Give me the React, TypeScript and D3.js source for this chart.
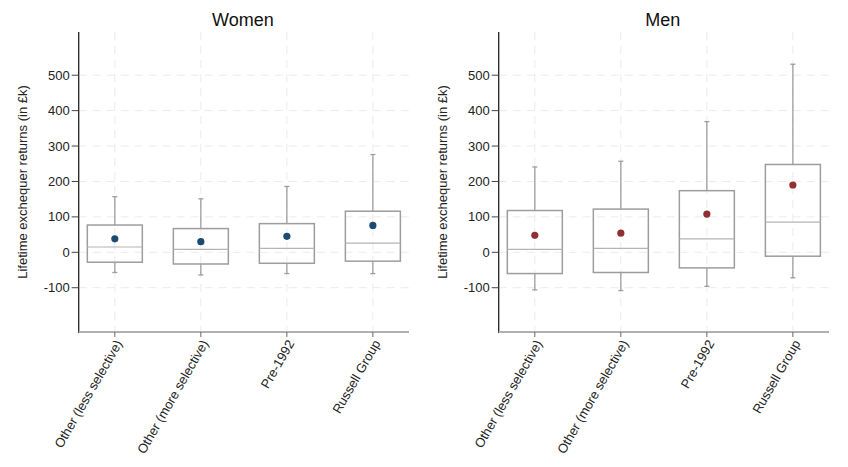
import React from "react";
import * as d3 from "d3";

const categories = [
  "Other (less selective)",
  "Other (more selective)",
  "Pre-1992",
  "Russell Group",
];
const yTicks = [-100, 0, 100, 200, 300, 400, 500];

const womenLower = [-57, -64, -60, -60];
const womenQ1 = [-28, -33, -31, -25];
const womenMedian = [15, 8, 11, 26];
const womenQ3 = [77, 67, 81, 116];
const womenUpper = [157, 151, 186, 276];
const womenMean = [38, 30, 45, 76];

const menLower = [-106, -108, -96, -72];
const menQ1 = [-60, -57, -44, -11];
const menMedian = [8, 11, 38, 85];
const menQ3 = [118, 122, 174, 248];
const menUpper = [241, 257, 369, 531];
const menMean = [48, 54, 108, 190];

const W = 848;
const H = 467;
const FONT = "Arial, 'Liberation Sans', sans-serif";

type PanelProps = {
  title: string;
  left: number;
  lower: number[];
  q1: number[];
  median: number[];
  q3: number[];
  upper: number[];
  mean: number[];
  dotColor: string;
};

function Panel({ title, left, lower, q1, median, q3, upper, mean, dotColor }: PanelProps) {
  const x0 = left;
  const x1 = left + 330.3;
  const top = 32;
  const bottom = 332;
  const y = d3.scaleLinear().domain([-225, 622]).range([bottom, top]);
  const x = d3.scalePoint<string>().domain(categories).range([x0, x1]).padding(0.42);
  const boxW = 55;
  const capW = 5;
  const boxStroke = "#9d9d9d";
  const gridColor = "#ebebeb";

  return (
    <g>
      <text
        x={(x0 + x1) / 2 - 1}
        y={26}
        textAnchor="middle"
        fontSize={18}
        fontFamily={FONT}
        fill="#111"
      >
        {title}
      </text>
      {/* grid */}
      {yTicks.map((t) => (
        <line
          key={"gy" + t}
          x1={x0}
          x2={x1}
          y1={y(t)}
          y2={y(t)}
          stroke={gridColor}
          strokeWidth={1}
          strokeDasharray="8,6"
        />
      ))}
      {categories.map((c) => (
        <line
          key={"gx" + c}
          x1={x(c)}
          x2={x(c)}
          y1={top}
          y2={bottom}
          stroke={gridColor}
          strokeWidth={1}
          strokeDasharray="8,6"
        />
      ))}
      {/* boxes */}
      {categories.map((c, i) => {
        const cx = x(c) as number;
        return (
          <g key={"b" + c}>
            <line x1={cx} x2={cx} y1={y(upper[i])} y2={y(q3[i])} stroke={boxStroke} strokeWidth={1.3} />
            <line x1={cx} x2={cx} y1={y(q1[i])} y2={y(lower[i])} stroke={boxStroke} strokeWidth={1.3} />
            <line x1={cx - capW / 2} x2={cx + capW / 2} y1={y(upper[i])} y2={y(upper[i])} stroke={boxStroke} strokeWidth={1.3} />
            <line x1={cx - capW / 2} x2={cx + capW / 2} y1={y(lower[i])} y2={y(lower[i])} stroke={boxStroke} strokeWidth={1.3} />
            <rect
              x={cx - boxW / 2}
              y={y(q3[i])}
              width={boxW}
              height={y(q1[i]) - y(q3[i])}
              fill="none"
              stroke={boxStroke}
              strokeWidth={1.5}
            />
            <line
              x1={cx - boxW / 2}
              x2={cx + boxW / 2}
              y1={y(median[i])}
              y2={y(median[i])}
              stroke="#b4b4b4"
              strokeWidth={1.2}
            />
            <circle cx={cx} cy={y(mean[i])} r={3.6} fill={dotColor} />
          </g>
        );
      })}
      {/* y axis */}
      <line x1={x0} x2={x0} y1={top} y2={bottom + 1} stroke="#222" strokeWidth={1.3} />
      {yTicks.map((t) => (
        <g key={"yt" + t}>
          <line x1={x0 - 7} x2={x0} y1={y(t)} y2={y(t)} stroke="#444" strokeWidth={1} />
          <text
            x={x0 - 9}
            y={y(t)}
            dy="0.35em"
            textAnchor="end"
            fontSize={13}
            fontFamily={FONT}
            fill="#222"
          >
            {t}
          </text>
        </g>
      ))}
      <text
        transform={`translate(${x0 - 52},${182}) rotate(-90)`}
        textAnchor="middle"
        fontSize={13}
        fontFamily={FONT}
        fill="#222"
      >
        Lifetime exchequer returns (in £k)
      </text>
      {/* x axis */}
      <line x1={x0} x2={x1} y1={bottom} y2={bottom} stroke="#b0b0b0" strokeWidth={2} />
      {categories.map((c) => {
        const cx = x(c) as number;
        return (
          <g key={"xt" + c}>
            <line x1={cx} x2={cx} y1={bottom} y2={bottom + 5} stroke="#666" strokeWidth={1} />
            <text
              transform={`translate(${cx + 4},${bottom + 9}) rotate(-60)`}
              textAnchor="end"
              dy="0.35em"
              fontSize={13}
              fontFamily={FONT}
              fill="#222"
            >
              {c}
            </text>
          </g>
        );
      })}
    </g>
  );
}

export default function App() {
  return (
    <div style={{ position: "absolute", left: 0, top: 0, width: W, height: H, background: "#fff" }}>
      <svg width={W} height={H} style={{ display: "block" }}>
        <rect width={W} height={H} fill="#fff" />
        <Panel
          title="Women"
          left={78.7}
          lower={womenLower}
          q1={womenQ1}
          median={womenMedian}
          q3={womenQ3}
          upper={womenUpper}
          mean={womenMean}
          dotColor="#1b4a73"
        />
        <Panel
          title="Men"
          left={498.7}
          lower={menLower}
          q1={menQ1}
          median={menMedian}
          q3={menQ3}
          upper={menUpper}
          mean={menMean}
          dotColor="#922f35"
        />
      </svg>
    </div>
  );
}
